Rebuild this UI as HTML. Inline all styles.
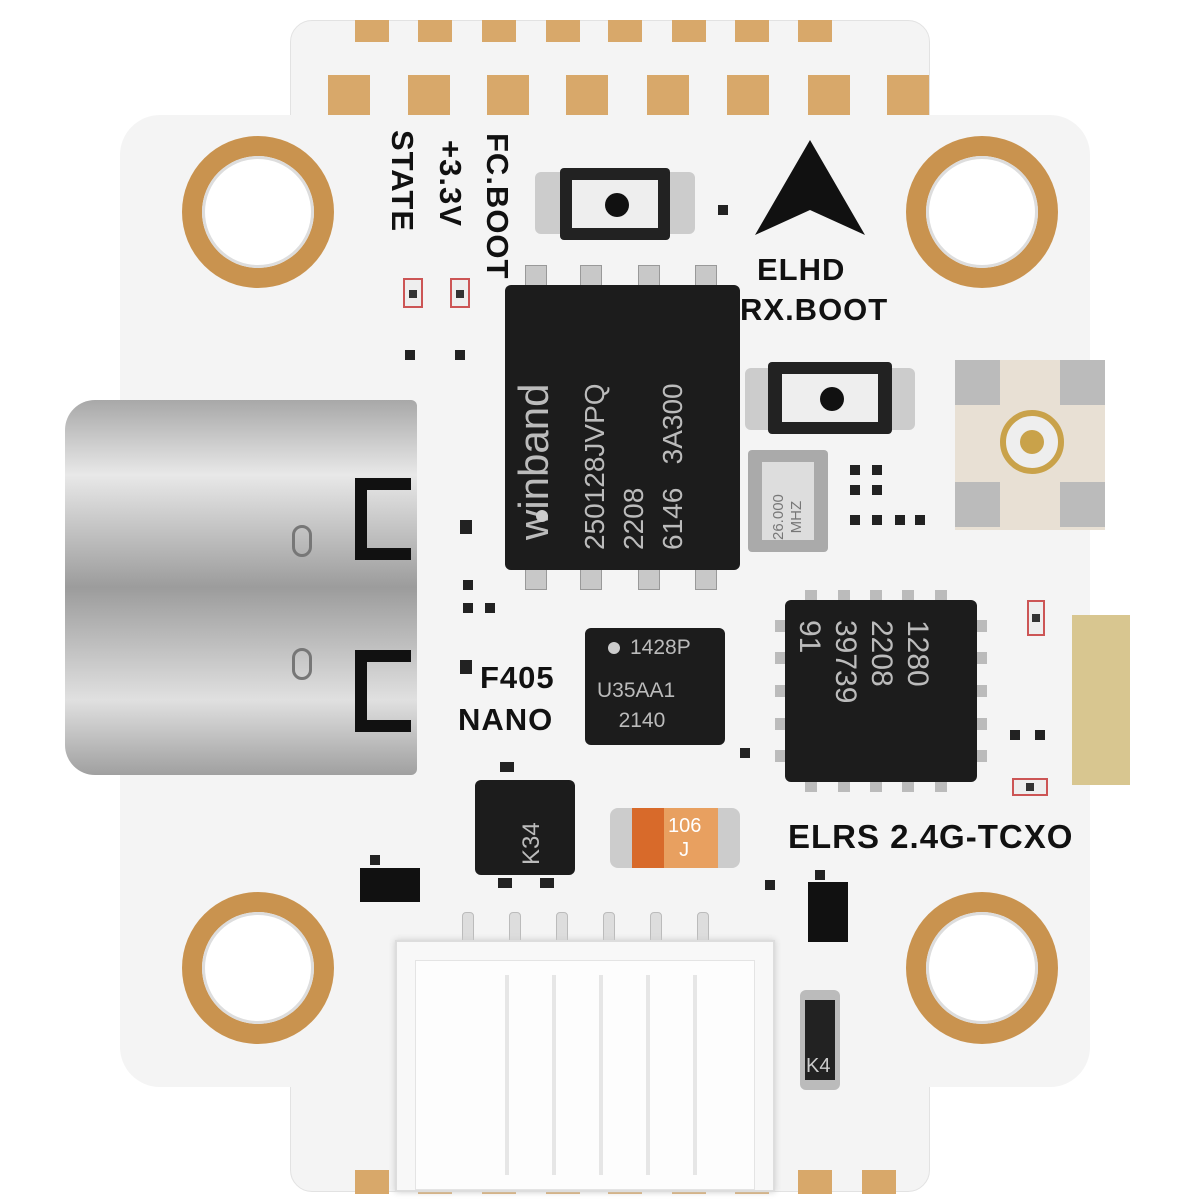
<!DOCTYPE html>
<html><head><meta charset="utf-8"><style>
*{margin:0;padding:0;box-sizing:border-box}
body{width:1200px;height:1200px;background:#fff;position:relative;overflow:hidden;font-family:"Liberation Sans",sans-serif}
.a{position:absolute}
.board{background:#f4f4f4;border:1px solid #e2e2e2}
.pad{position:absolute;background:#d8a86a;width:42px;height:40px}
.hole{position:absolute;width:152px;height:152px;border-radius:50%;background:#c9934f}
.hole::after{content:"";position:absolute;left:20px;top:20px;width:112px;height:112px;border-radius:50%;background:#fff;box-shadow:inset 0 0 0 3px #ddd}
.chip{position:absolute;background:#1c1c1c;border-radius:6px;color:#bdbdbd}
.leg{position:absolute;background:#c8c8c8;border:1px solid #999}
.lbl{position:absolute;font-weight:bold;color:#111;font-size:31px;letter-spacing:1px}
.sm{position:absolute;background:#222;width:10px;height:10px}
.pin{position:absolute;width:12px;height:46px;background:#ddd;border:1px solid #bbb;top:912px;border-radius:4px}
.ep{position:absolute;background:#bbb;width:12px;height:12px}
</style></head><body>
<div class="a board" style="left:290px;top:20px;width:640px;height:1172px;border-radius:22px"></div>
<div class="a board" style="left:120px;top:115px;width:970px;height:972px;border-radius:40px;border:none"></div>
<div class="pad" style="left:328px;top:75px"></div><div class="pad" style="left:408px;top:75px"></div>
<div class="pad" style="left:487px;top:75px"></div><div class="pad" style="left:566px;top:75px"></div>
<div class="pad" style="left:647px;top:75px"></div><div class="pad" style="left:727px;top:75px"></div>
<div class="pad" style="left:808px;top:75px"></div><div class="pad" style="left:887px;top:75px"></div>
<div class="pad" style="left:355px;top:20px;height:22px;width:34px"></div><div class="pad" style="left:418px;top:20px;height:22px;width:34px"></div>
<div class="pad" style="left:482px;top:20px;height:22px;width:34px"></div><div class="pad" style="left:546px;top:20px;height:22px;width:34px"></div>
<div class="pad" style="left:608px;top:20px;height:22px;width:34px"></div><div class="pad" style="left:672px;top:20px;height:22px;width:34px"></div>
<div class="pad" style="left:735px;top:20px;height:22px;width:34px"></div><div class="pad" style="left:798px;top:20px;height:22px;width:34px"></div>
<div class="pad" style="left:355px;top:1170px;height:24px;width:34px"></div><div class="pad" style="left:418px;top:1170px;height:24px;width:34px"></div>
<div class="pad" style="left:482px;top:1170px;height:24px;width:34px"></div><div class="pad" style="left:546px;top:1170px;height:24px;width:34px"></div>
<div class="pad" style="left:608px;top:1170px;height:24px;width:34px"></div><div class="pad" style="left:672px;top:1170px;height:24px;width:34px"></div>
<div class="pad" style="left:735px;top:1170px;height:24px;width:34px"></div><div class="pad" style="left:798px;top:1170px;height:24px;width:34px"></div>
<div class="pad" style="left:862px;top:1170px;height:24px;width:34px"></div>
<div class="hole" style="left:182px;top:136px"></div><div class="hole" style="left:906px;top:136px"></div>
<div class="hole" style="left:182px;top:892px"></div><div class="hole" style="left:906px;top:892px"></div>
<div class="lbl" style="transform:rotate(90deg);transform-origin:left top;left:420px;top:130px">STATE</div>
<div class="lbl" style="transform:rotate(90deg);transform-origin:left top;left:468px;top:140px">+3.3V</div>
<div class="lbl" style="transform:rotate(90deg);transform-origin:left top;left:515px;top:133px">FC.BOOT</div>
<div class="a" style="left:403px;top:278px;width:20px;height:30px;background:#eee;border:2px solid #c55"></div>
<div class="a" style="left:409px;top:290px;width:8px;height:8px;background:#333"></div>
<div class="a" style="left:450px;top:278px;width:20px;height:30px;background:#eee;border:2px solid #c55"></div>
<div class="a" style="left:456px;top:290px;width:8px;height:8px;background:#333"></div>
<div class="sm" style="left:405px;top:350px"></div><div class="sm" style="left:455px;top:350px"></div>
<svg class="a" style="left:755px;top:140px" width="110" height="95"><polygon points="55,0 110,95 55,70 0,95" fill="#111"/></svg>
<div class="lbl" style="left:757px;top:252px">ELHD</div>
<div class="lbl" style="left:740px;top:292px">RX.BOOT</div>
<div class="a" style="left:535px;top:172px;width:160px;height:62px;background:#ccc;border-radius:6px"></div>
<div class="a" style="left:560px;top:168px;width:110px;height:72px;background:#222;border-radius:4px"></div>
<div class="a" style="left:572px;top:180px;width:86px;height:48px;background:#eee"></div>
<div class="a" style="left:605px;top:193px;width:24px;height:24px;border-radius:50%;background:#111"></div>
<div class="a" style="left:745px;top:368px;width:170px;height:62px;background:#ccc;border-radius:6px"></div>
<div class="a" style="left:768px;top:362px;width:124px;height:72px;background:#222;border-radius:4px"></div>
<div class="a" style="left:782px;top:374px;width:96px;height:48px;background:#eee"></div>
<div class="a" style="left:820px;top:387px;width:24px;height:24px;border-radius:50%;background:#111"></div>
<div class="sm" style="left:718px;top:205px"></div>
<div class="a" style="left:65px;top:400px;width:352px;height:375px;border-radius:30px 6px 6px 30px;background:linear-gradient(180deg,#a8a8a8,#e8e8e8 20%,#9c9c9c 50%,#e0e0e0 80%,#a0a0a0)"></div>
<div class="a" style="left:355px;top:478px;width:56px;height:82px;border:12px solid #111;border-right:none"></div>
<div class="a" style="left:355px;top:650px;width:56px;height:82px;border:12px solid #111;border-right:none"></div>
<div class="a" style="left:292px;top:525px;width:20px;height:32px;border:3px solid #777;border-radius:10px"></div>
<div class="a" style="left:292px;top:648px;width:20px;height:32px;border:3px solid #777;border-radius:10px"></div>
<div class="leg" style="left:525px;top:265px;width:22px;height:30px"></div><div class="leg" style="left:580px;top:265px;width:22px;height:30px"></div>
<div class="leg" style="left:638px;top:265px;width:22px;height:30px"></div><div class="leg" style="left:695px;top:265px;width:22px;height:30px"></div>
<div class="leg" style="left:525px;top:560px;width:22px;height:30px"></div><div class="leg" style="left:580px;top:560px;width:22px;height:30px"></div>
<div class="leg" style="left:638px;top:560px;width:22px;height:30px"></div><div class="leg" style="left:695px;top:560px;width:22px;height:30px"></div>
<div class="chip" style="left:505px;top:285px;width:235px;height:285px"></div>
<div class="a" style="left:510px;top:540px;transform:rotate(-90deg);transform-origin:left top;color:#bbb;font-size:42px;white-space:nowrap">winband</div>
<div class="a" style="left:575px;top:550px;transform:rotate(-90deg);transform-origin:left top;color:#bbb;font-size:28px;line-height:39px;white-space:nowrap">250128JVPQ<br>2208<br>6146&nbsp;&nbsp;&nbsp;3A300</div>
<div class="a" style="left:536px;top:510px;width:12px;height:12px;border-radius:50%;background:#ccc"></div>
<div class="a" style="left:748px;top:450px;width:80px;height:102px;background:#aaa;border-radius:4px"></div>
<div class="a" style="left:762px;top:462px;width:52px;height:78px;background:#ddd"></div>
<div class="a" style="left:770px;top:540px;transform:rotate(-90deg);transform-origin:left top;font-size:15px;color:#777;line-height:18px;text-align:center">26.000<br>MHZ</div>
<div class="a" style="left:955px;top:360px;width:150px;height:170px;background:#e8e0d4"></div>
<div class="a" style="left:955px;top:360px;width:45px;height:45px;background:#bbb"></div><div class="a" style="left:1060px;top:360px;width:45px;height:45px;background:#bbb"></div>
<div class="a" style="left:955px;top:482px;width:45px;height:45px;background:#bbb"></div><div class="a" style="left:1060px;top:482px;width:45px;height:45px;background:#bbb"></div>
<div class="a" style="left:1000px;top:410px;width:64px;height:64px;border-radius:50%;border:6px solid #c9a24a;background:#eee"></div>
<div class="a" style="left:1020px;top:430px;width:24px;height:24px;border-radius:50%;background:#c9a24a"></div>
<div class="sm" style="left:850px;top:465px"></div><div class="sm" style="left:872px;top:465px"></div>
<div class="sm" style="left:850px;top:485px"></div><div class="sm" style="left:872px;top:485px"></div>
<div class="sm" style="left:850px;top:515px"></div><div class="sm" style="left:872px;top:515px"></div><div class="sm" style="left:895px;top:515px"></div><div class="sm" style="left:915px;top:515px"></div>
<div class="sm" style="left:460px;top:520px;width:12px;height:14px"></div><div class="sm" style="left:463px;top:580px"></div>
<div class="sm" style="left:463px;top:603px"></div><div class="sm" style="left:485px;top:603px"></div>
<div class="sm" style="left:460px;top:660px;width:12px;height:14px"></div>
<div class="chip" style="left:585px;top:628px;width:140px;height:117px"></div>
<div class="a" style="left:608px;top:642px;width:12px;height:12px;border-radius:50%;background:#ccc"></div>
<div class="a" style="left:630px;top:636px;font-size:21px;color:#bbb">1428P</div>
<div class="a" style="left:597px;top:676px;font-size:21px;color:#bbb;line-height:30px;text-align:center">U35AA1<br>&nbsp;&nbsp;2140</div>
<div class="lbl" style="left:480px;top:660px">F405</div>
<div class="lbl" style="left:458px;top:702px">NANO</div>
<!-- ELRS pins -->
<div class="ep" style="left:805px;top:590px"></div><div class="ep" style="left:838px;top:590px"></div><div class="ep" style="left:870px;top:590px"></div><div class="ep" style="left:902px;top:590px"></div><div class="ep" style="left:935px;top:590px"></div>
<div class="ep" style="left:805px;top:780px"></div><div class="ep" style="left:838px;top:780px"></div><div class="ep" style="left:870px;top:780px"></div><div class="ep" style="left:902px;top:780px"></div><div class="ep" style="left:935px;top:780px"></div>
<div class="ep" style="left:775px;top:620px"></div><div class="ep" style="left:775px;top:652px"></div><div class="ep" style="left:775px;top:685px"></div><div class="ep" style="left:775px;top:718px"></div><div class="ep" style="left:775px;top:750px"></div>
<div class="ep" style="left:975px;top:620px"></div><div class="ep" style="left:975px;top:652px"></div><div class="ep" style="left:975px;top:685px"></div><div class="ep" style="left:975px;top:718px"></div><div class="ep" style="left:975px;top:750px"></div>
<div class="chip" style="left:785px;top:600px;width:192px;height:182px"></div>
<div class="a" style="left:935px;top:620px;transform:rotate(90deg);transform-origin:left top;color:#bbb;font-size:30px;line-height:36px;white-space:nowrap">1280<br>2208<br>39739<br>91</div>
<div class="sm" style="left:1010px;top:730px"></div><div class="sm" style="left:1035px;top:730px"></div>
<div class="a" style="left:1027px;top:600px;width:18px;height:36px;background:#eee;border:2px solid #c55"></div>
<div class="a" style="left:1032px;top:614px;width:8px;height:8px;background:#333"></div>
<div class="a" style="left:1012px;top:778px;width:36px;height:18px;background:#eee;border:2px solid #c55"></div>
<div class="a" style="left:1026px;top:783px;width:8px;height:8px;background:#333"></div>
<div class="a" style="left:1072px;top:615px;width:58px;height:170px;background:#d8c690"></div>
<div class="sm" style="left:740px;top:748px"></div>
<div class="lbl" style="left:788px;top:818px;font-size:33px">ELRS 2.4G-TCXO</div>
<div class="chip" style="left:475px;top:780px;width:100px;height:95px"></div>
<div class="a" style="left:518px;top:865px;transform:rotate(-90deg);transform-origin:left top;color:#bbb;font-size:24px">K34</div>
<div class="sm" style="left:500px;top:762px;width:14px"></div><div class="sm" style="left:498px;top:878px;width:14px"></div>
<div class="sm" style="left:540px;top:878px;width:14px"></div>
<div class="a" style="left:610px;top:808px;width:130px;height:60px;background:#ccc;border-radius:8px"></div>
<div class="a" style="left:632px;top:808px;width:86px;height:60px;background:#e8a060"></div>
<div class="a" style="left:632px;top:808px;width:32px;height:60px;background:#d86a2a"></div>
<div class="a" style="left:668px;top:814px;font-size:20px;color:#fff;line-height:24px">106<br>&nbsp;&nbsp;J</div>
<div class="a" style="left:360px;top:868px;width:60px;height:34px;background:#111"></div>
<div class="sm" style="left:370px;top:855px"></div><div class="sm" style="left:765px;top:880px"></div>
<div class="a" style="left:808px;top:882px;width:40px;height:60px;background:#111"></div>
<div class="sm" style="left:815px;top:870px"></div>
<div class="a" style="left:800px;top:990px;width:40px;height:100px;background:#bbb;border-radius:6px"></div>
<div class="a" style="left:805px;top:1000px;width:30px;height:80px;background:#222"></div>
<div class="a" style="left:806px;top:1055px;font-size:20px;color:#ccc">K4</div>
<!-- bottom connector -->
<div class="pin" style="left:462px"></div><div class="pin" style="left:509px"></div><div class="pin" style="left:556px"></div>
<div class="pin" style="left:603px"></div><div class="pin" style="left:650px"></div><div class="pin" style="left:697px"></div><div class="pin" style="left:712px;display:none"></div>
<div class="a" style="left:395px;top:940px;width:380px;height:252px;background:#f8f8f8;border:2px solid #ddd;box-shadow:0 0 6px #ccc"></div>
<div class="a" style="left:415px;top:960px;width:340px;height:230px;background:#fdfdfd;border:1px solid #e4e4e4"></div>
<div class="a" style="left:465px;top:975px;width:240px;height:200px;background:repeating-linear-gradient(90deg,transparent 0 40px,#e6e6e6 40px 44px,transparent 44px 47px)"></div>
</body></html>
